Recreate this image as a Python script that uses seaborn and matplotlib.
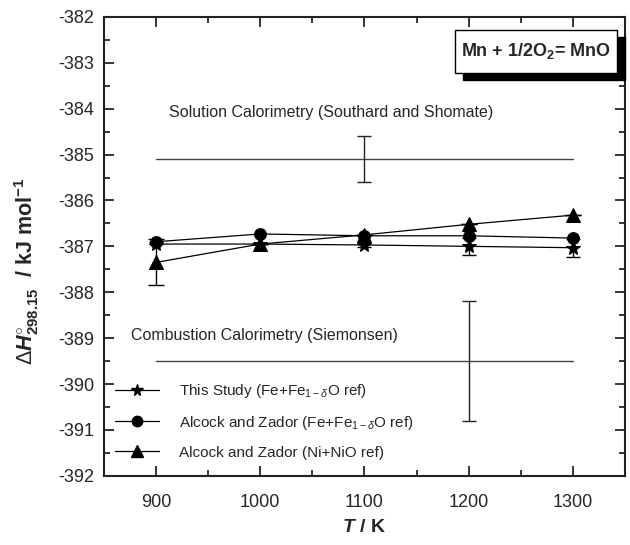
import matplotlib
matplotlib.use("Agg")
import matplotlib.pyplot as plt
import seaborn as sns
import numpy as np
import pandas as pd
from matplotlib.patches import Rectangle
from matplotlib.lines import Line2D
from matplotlib.ticker import MultipleLocator

temps = [900, 1000, 1100, 1200, 1300]
this_study = [-386.95, -386.95, -386.97, -387.0, -387.03]
this_study_err = [0.0, 0.0, 0.05, 0.18, 0.2]
alcock_fe = [-386.9, -386.73, -386.77, -386.77, -386.82]
alcock_ni = [-387.35, -386.95, -386.75, -386.52, -386.32]
alcock_ni_err = [0.5, 0.0, 0.0, 0.0, 0.0]

solution_x = [900, 1300]
solution_y = -385.1
solution_err_x = 1100
solution_err = 0.5
combustion_x = [900, 1300]
combustion_y = -389.5
combustion_err_x = 1200
combustion_err = 1.3

labels = [r'This Study (Fe+Fe$_{\mathregular{1-}\delta}$O ref)',
          r'Alcock and Zador (Fe+Fe$_{\mathregular{1-}\delta}$O ref)',
          r'Alcock and Zador (Ni+NiO ref)']

sns.set_style("ticks")
plt.rcParams['font.family'] = ['Liberation Sans', 'DejaVu Sans']
plt.rcParams['axes.unicode_minus'] = False
plt.rcParams['mathtext.fontset'] = 'custom'
plt.rcParams['mathtext.rm'] = 'Liberation Sans'
plt.rcParams['mathtext.it'] = 'Liberation Sans:italic'
plt.rcParams['mathtext.bf'] = 'Liberation Sans:bold'
plt.rcParams['mathtext.bfit'] = 'Liberation Sans:bold:italic'

fig = plt.figure(figsize=(6.3, 5.45), dpi=100)
ax = fig.add_axes([0.165, 0.127, 0.827, 0.842])

# reference lines
ax.plot(solution_x, [solution_y] * 2, color='#444444', lw=1.0)
ax.errorbar([solution_err_x], [solution_y], yerr=[solution_err], fmt='none',
            ecolor='#222222', elinewidth=1.0, capsize=5, capthick=1.0)
ax.plot(combustion_x, [combustion_y] * 2, color='#444444', lw=1.0)
ax.errorbar([combustion_err_x], [combustion_y], yerr=[combustion_err], fmt='none',
            ecolor='#222222', elinewidth=1.0, capsize=5, capthick=1.0)

df = pd.DataFrame({'T': temps * 3,
                   'H': this_study + alcock_fe + alcock_ni,
                   'src': [labels[0]] * 5 + [labels[1]] * 5 + [labels[2]] * 5})

ax.errorbar(temps, this_study, yerr=this_study_err, fmt='none', ecolor='black',
            elinewidth=1.0, capsize=5, capthick=1.0)
ax.errorbar(temps, alcock_ni, yerr=alcock_ni_err, fmt='none', ecolor='black',
            elinewidth=1.0, capsize=6, capthick=1.0)

sns.lineplot(data=df, x='T', y='H', hue='src', style='src',
             palette=['black'] * 3, dashes=False,
             markers={labels[0]: '*', labels[1]: 'o', labels[2]: '^'},
             markersize=10, markeredgecolor='black', lw=0.9, ax=ax, legend=False)
for line in ax.get_lines()[-3:]:
    m = line.get_marker()
    if m == '*':
        line.set_markersize(11)
    elif m == 'o':
        line.set_markersize(8.5)
    elif m == '^':
        line.set_markersize(10)

handles = [Line2D([], [], color='black', lw=0.9, marker='*', markersize=8.5),
           Line2D([], [], color='black', lw=0.9, marker='o', markersize=7.5),
           Line2D([], [], color='black', lw=0.9, marker='^', markersize=8.5)]
ax.legend(handles, labels, loc='lower left', bbox_to_anchor=(0.0, 0.012),
          frameon=False, fontsize=11, handlelength=2.9, labelspacing=0.9,
          handletextpad=1.3, borderaxespad=0.3)

ax.text(1068, -384.09, 'Solution Calorimetry (Southard and Shomate)',
        ha='center', va='center', fontsize=11.5)
ax.text(876, -388.95, 'Combustion Calorimetry (Siemonsen)',
        ha='left', va='center', fontsize=11.5)

# reaction box with shadow
bx0, bx1, by0, by1 = 0.674, 0.985, 0.878, 0.972
ax.add_patch(Rectangle((bx0 + 0.0154, by0 - 0.0153), bx1 - bx0, by1 - by0,
                       transform=ax.transAxes, facecolor='black', edgecolor='black',
                       zorder=5, clip_on=False))
ax.add_patch(Rectangle((bx0, by0), bx1 - bx0, by1 - by0, transform=ax.transAxes,
                       facecolor='white', edgecolor='black', lw=1.0, zorder=6,
                       clip_on=False))
ax.text((bx0 + bx1) / 2, (by0 + by1) / 2, r'Mn + 1/2O$_\mathbf{2}$= MnO',
        transform=ax.transAxes, ha='center', va='center', fontsize=13,
        fontweight='bold', zorder=7)

ax.set_xlim(850, 1350)
ax.set_ylim(-392, -382)
ax.set_xticks(temps)
ax.set_yticks(np.arange(-392, -381, 1))
ax.xaxis.set_minor_locator(MultipleLocator(50))
ax.yaxis.set_minor_locator(MultipleLocator(0.5))
ax.tick_params(which='both', direction='in', top=True, right=True,
               labeltop=False, labelright=False, width=1.3, labelsize=13)
ax.tick_params(axis='x', pad=13)
ax.tick_params(axis='y', pad=7)
ax.tick_params(which='major', length=7)
ax.tick_params(which='minor', length=4)
for s in ax.spines.values():
    s.set_linewidth(1.5)
    s.set_color('#222222')

ax.set_xlabel(r'$\mathbfit{T}$ / K', fontsize=14, fontweight='bold')
ax.xaxis.set_label_coords(0.5, -0.095)
ax.set_ylabel(r'$\Delta\mathbfit{H}^{\circ}_{\mathbf{298.15}}$  / kJ mol$^{\mathbf{-1}}$',
              fontsize=15.5, fontweight='bold')
ax.yaxis.set_label_coords(-0.12, 0.445)

fig.savefig('out.png', dpi=100)
